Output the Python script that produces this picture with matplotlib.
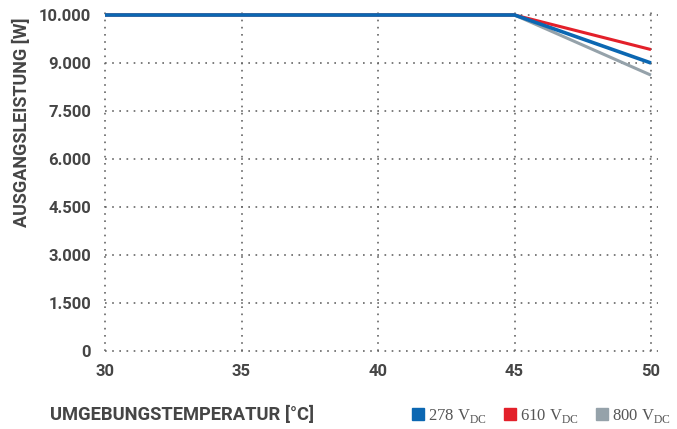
import numpy as np
import matplotlib
matplotlib.use('Agg')
from matplotlib import pyplot as plt
from matplotlib.lines import Line2D

# Daten aus dem Derating-Diagramm
temperatur = [30, 45, 50]
leistung_278 = [10000, 10000, 9000]
leistung_610 = [10000, 10000, 9280]
leistung_800 = [10000, 10000, 8620]

y_ticks = [0, 1500, 3000, 4500, 6000, 7500, 9000, 10000]
y_labels = ['0', '1.500', '3.000', '4.500', '6.000', '7.500', '9.000', '10.000']
x_ticks = [30, 35, 40, 45, 50]

serien = [
    ('800', leistung_800, '#95a2aa', 2.2),
    ('610', leistung_610, '#e3202a', 2.2),
    ('278', leistung_278, '#0b67b2', 2.6),
]

grau = '#454545'
plt.rcParams['font.family'] = ['Roboto', 'DejaVu Sans']
plt.rcParams['mathtext.fontset'] = 'custom'
plt.rcParams['mathtext.rm'] = 'Liberation Serif'

# y-Achse: Ticks gleichmaessig verteilt (stueckweise linear)
pos = np.arange(len(y_ticks), dtype=float)
def vorwaerts(v):
    return np.interp(v, y_ticks, pos)
def rueckwaerts(p):
    return np.interp(p, pos, y_ticks)

fig = plt.figure(figsize=(6.77, 4.29), dpi=100)
ax = fig.add_axes([105 / 677, 1 - 351 / 429, (651 - 105) / 677, (351 - 15) / 429])
ax.set_yscale('function', functions=(vorwaerts, rueckwaerts))

for name, werte, farbe, lw in serien:
    ax.plot(temperatur, werte, color=farbe, linewidth=lw, solid_capstyle='butt',
            clip_on=False, zorder=3)

ax.set_xlim(30, 50)
ax.set_ylim(0, 10000)
ax.set_xticks(x_ticks)
ax.set_yticks(y_ticks)
ax.set_yticklabels(y_labels)
ax.minorticks_off()

for s in ax.spines.values():
    s.set_visible(False)
ax.tick_params(length=0, labelsize=12, colors=grau)
ax.tick_params(axis='y', pad=10)
ax.tick_params(axis='x', pad=9)
for lbl in ax.get_xticklabels() + ax.get_yticklabels():
    lbl.set_fontweight('bold')

# gepunktetes Gitter (etwas ueber den Rand hinaus)
punkt = (0, (1, 3.3))
for xv in x_ticks:
    ax.axvline(xv, ymin=0, ymax=1.022, color='#666666', linestyle=punkt,
               linewidth=1.2, clip_on=False, zorder=1)
for yv in y_ticks:
    ax.plot([30, 50.25], [yv, yv], color='#666666', linestyle=punkt,
            linewidth=1.2, clip_on=False, zorder=1)

fig.text(22 / 677, 1 - 122 / 429, 'AUSGANGSLEISTUNG [W]', rotation=90,
         ha='center', va='center', fontsize=13, fontweight='bold', color=grau)
fig.text(50 / 677, 1 - 415 / 429, 'UMGEBUNGSTEMPERATUR [°C]',
         ha='left', va='center', fontsize=13.2, fontweight='bold', color=grau)

handles = []
labels = []
for name, werte, farbe, lw in [serien[2], serien[1], serien[0]]:
    handles.append(Line2D([], [], marker='s', markersize=9, color=farbe, linestyle='none'))
    labels.append(name + r' V$_{\rm DC}$')
leg = fig.legend(handles, labels, loc='center right', bbox_to_anchor=(1.013, 1 - 416 / 429),
                 ncol=3, frameon=False, handletextpad=0.1, columnspacing=0.9,
                 handlelength=1.0, prop={'family': 'Liberation Serif', 'size': 12})
for t in leg.get_texts():
    t.set_color('#555555')

fig.savefig('out.png', dpi=100)
